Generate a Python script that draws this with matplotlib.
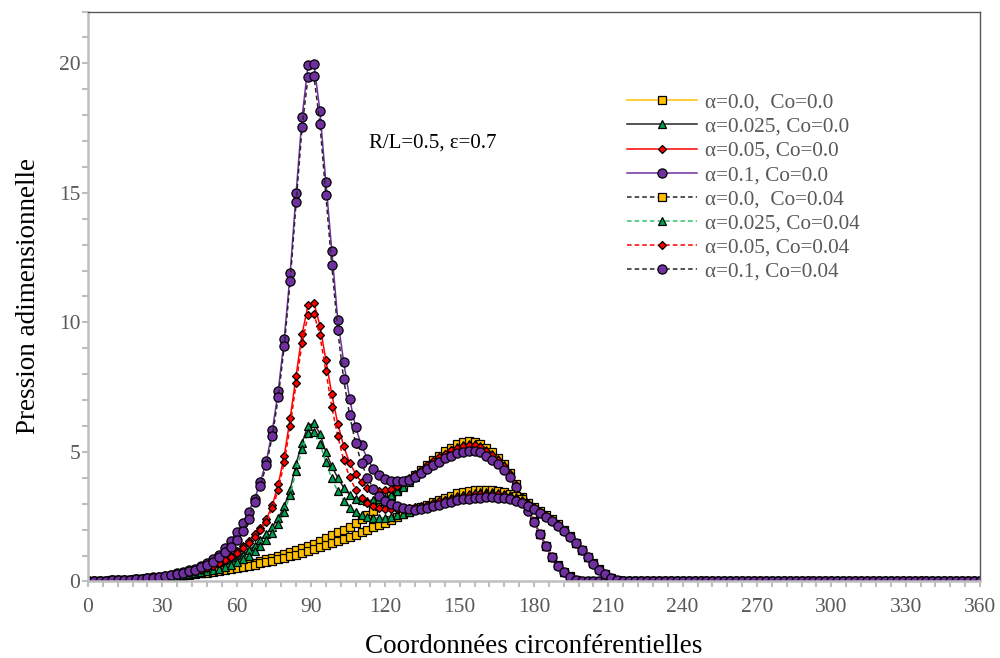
import numpy as np
import matplotlib
matplotlib.use("Agg")
import matplotlib.pyplot as plt
from matplotlib.ticker import MultipleLocator

plt.rcParams['font.family'] = ['Liberation Serif', 'DejaVu Serif']

# circumferential coordinate (deg), one point every 2.4 deg
theta = np.linspace(0, 360, 151)

# alpha = 0.0, Co = 0.0
p_a0_c0 = [
    0.00, 0.01, 0.02, 0.03, 0.04, 0.05, 0.06, 0.07, 0.09, 0.10,
    0.12, 0.14, 0.16, 0.18, 0.20, 0.22, 0.25, 0.28, 0.31, 0.34,
    0.37, 0.41, 0.45, 0.49, 0.53, 0.58, 0.63, 0.68, 0.73, 0.79,
    0.85, 0.91, 0.98, 1.05, 1.12, 1.20, 1.28, 1.36, 1.45, 1.55,
    1.67, 1.79, 1.90, 2.00, 2.12, 2.25, 2.40, 2.55, 2.72, 2.90,
    3.10, 3.30, 3.50, 3.70, 3.90, 4.10, 4.30, 4.50, 4.68, 4.86,
    5.02, 5.17, 5.30, 5.38, 5.42, 5.40, 5.30, 5.15, 4.98, 4.78,
    4.52, 4.18, 3.75, 3.25, 2.78, 2.32, 1.85, 1.38, 0.95, 0.62,
    0.38, 0.20, 0.07, 0.00, 0.00, 0.00, 0.00, 0.00, 0.00, 0.00,
    0.00, 0.00, 0.00, 0.00, 0.00, 0.00, 0.00, 0.00, 0.00, 0.00,
    0.00, 0.00, 0.00, 0.00, 0.00, 0.00, 0.00, 0.00, 0.00, 0.00,
    0.00, 0.00, 0.00, 0.00, 0.00, 0.00, 0.00, 0.00, 0.00, 0.00,
    0.00, 0.00, 0.00, 0.00, 0.00, 0.00, 0.00, 0.00, 0.00, 0.00,
    0.00, 0.00, 0.00, 0.00, 0.00, 0.00, 0.00, 0.00, 0.00, 0.00,
    0.00, 0.00, 0.00, 0.00, 0.00, 0.00, 0.00, 0.00, 0.00, 0.00,
    0.00]

# alpha = 0.025, Co = 0.0
p_a025_c0 = [
    0.00, 0.01, 0.02, 0.03, 0.04, 0.05, 0.06, 0.07, 0.09, 0.10,
    0.12, 0.14, 0.16, 0.18, 0.21, 0.23, 0.26, 0.29, 0.33, 0.36,
    0.40, 0.47, 0.54, 0.63, 0.75, 0.88, 1.03, 1.20, 1.38, 1.60,
    1.84, 2.10, 2.45, 2.90, 3.55, 4.55, 5.35, 6.02, 6.11, 5.70,
    5.00, 4.45, 4.00, 3.62, 3.35, 3.20, 3.13, 3.12, 3.14, 3.18,
    3.24, 3.34, 3.48, 3.66, 3.85, 4.04, 4.23, 4.42, 4.60, 4.77,
    4.93, 5.07, 5.19, 5.27, 5.31, 5.30, 5.22, 5.08, 4.91, 4.72,
    4.49, 4.15, 3.73, 3.24, 2.78, 2.32, 1.85, 1.38, 0.95, 0.62,
    0.38, 0.20, 0.07, 0.00, 0.00, 0.00, 0.00, 0.00, 0.00, 0.00,
    0.00, 0.00, 0.00, 0.00, 0.00, 0.00, 0.00, 0.00, 0.00, 0.00,
    0.00, 0.00, 0.00, 0.00, 0.00, 0.00, 0.00, 0.00, 0.00, 0.00,
    0.00, 0.00, 0.00, 0.00, 0.00, 0.00, 0.00, 0.00, 0.00, 0.00,
    0.00, 0.00, 0.00, 0.00, 0.00, 0.00, 0.00, 0.00, 0.00, 0.00,
    0.00, 0.00, 0.00, 0.00, 0.00, 0.00, 0.00, 0.00, 0.00, 0.00,
    0.00, 0.00, 0.00, 0.00, 0.00, 0.00, 0.00, 0.00, 0.00, 0.00,
    0.00]

# alpha = 0.05, Co = 0.0
p_a05_c0 = [
    0.00, 0.01, 0.02, 0.03, 0.04, 0.05, 0.06, 0.07, 0.09, 0.10,
    0.12, 0.14, 0.16, 0.19, 0.22, 0.26, 0.30, 0.35, 0.41, 0.47,
    0.55, 0.63, 0.73, 0.86, 1.00, 1.16, 1.35, 1.57, 1.82, 2.08,
    2.40, 2.95, 3.75, 4.85, 6.30, 7.95, 9.55, 10.66, 10.75, 9.88,
    8.56, 7.22, 6.09, 5.22, 4.57, 4.16, 3.83, 3.62, 3.52, 3.50,
    3.52, 3.58, 3.70, 3.84, 3.99, 4.15, 4.32, 4.48, 4.64, 4.79,
    4.93, 5.06, 5.16, 5.23, 5.26, 5.25, 5.18, 5.05, 4.88, 4.68,
    4.46, 4.13, 3.72, 3.23, 2.77, 2.31, 1.85, 1.38, 0.95, 0.62,
    0.38, 0.20, 0.07, 0.00, 0.00, 0.00, 0.00, 0.00, 0.00, 0.00,
    0.00, 0.00, 0.00, 0.00, 0.00, 0.00, 0.00, 0.00, 0.00, 0.00,
    0.00, 0.00, 0.00, 0.00, 0.00, 0.00, 0.00, 0.00, 0.00, 0.00,
    0.00, 0.00, 0.00, 0.00, 0.00, 0.00, 0.00, 0.00, 0.00, 0.00,
    0.00, 0.00, 0.00, 0.00, 0.00, 0.00, 0.00, 0.00, 0.00, 0.00,
    0.00, 0.00, 0.00, 0.00, 0.00, 0.00, 0.00, 0.00, 0.00, 0.00,
    0.00, 0.00, 0.00, 0.00, 0.00, 0.00, 0.00, 0.00, 0.00, 0.00,
    0.00]

# alpha = 0.1, Co = 0.0
p_a1_c0 = [
    0.00, 0.01, 0.02, 0.03, 0.04, 0.05, 0.06, 0.07, 0.09, 0.11,
    0.14, 0.16, 0.19, 0.22, 0.26, 0.31, 0.36, 0.43, 0.50, 0.59,
    0.70, 0.85, 1.04, 1.30, 1.58, 1.90, 2.25, 2.68, 3.19, 3.85,
    4.65, 5.83, 7.37, 9.37, 11.90, 15.00, 17.93, 19.92, 19.96, 18.16,
    15.42, 12.75, 10.10, 8.47, 7.05, 5.95, 5.25, 4.72, 4.35, 4.12,
    3.97, 3.88, 3.86, 3.87, 3.92, 4.03, 4.17, 4.33, 4.48, 4.62,
    4.75, 4.86, 4.94, 5.00, 5.04, 5.04, 4.98, 4.86, 4.70, 4.52,
    4.32, 4.02, 3.65, 3.18, 2.73, 2.28, 1.82, 1.36, 0.94, 0.61,
    0.37, 0.19, 0.06, 0.00, 0.00, 0.00, 0.00, 0.00, 0.00, 0.00,
    0.00, 0.00, 0.00, 0.00, 0.00, 0.00, 0.00, 0.00, 0.00, 0.00,
    0.00, 0.00, 0.00, 0.00, 0.00, 0.00, 0.00, 0.00, 0.00, 0.00,
    0.00, 0.00, 0.00, 0.00, 0.00, 0.00, 0.00, 0.00, 0.00, 0.00,
    0.00, 0.00, 0.00, 0.00, 0.00, 0.00, 0.00, 0.00, 0.00, 0.00,
    0.00, 0.00, 0.00, 0.00, 0.00, 0.00, 0.00, 0.00, 0.00, 0.00,
    0.00, 0.00, 0.00, 0.00, 0.00, 0.00, 0.00, 0.00, 0.00, 0.00,
    0.00]

# alpha = 0.0, Co = 0.04
p_a0_c04 = [
    0.00, 0.01, 0.02, 0.03, 0.04, 0.05, 0.06, 0.07, 0.08, 0.10,
    0.11, 0.13, 0.15, 0.17, 0.19, 0.21, 0.23, 0.26, 0.28, 0.31,
    0.34, 0.37, 0.40, 0.44, 0.48, 0.52, 0.56, 0.60, 0.65, 0.70,
    0.75, 0.80, 0.86, 0.92, 0.98, 1.04, 1.11, 1.18, 1.25, 1.32,
    1.39, 1.47, 1.55, 1.63, 1.72, 1.81, 1.91, 2.00, 2.09, 2.17,
    2.27, 2.38, 2.49, 2.60, 2.70, 2.80, 2.89, 2.97, 3.05, 3.13,
    3.21, 3.31, 3.40, 3.45, 3.49, 3.52, 3.54, 3.55, 3.54, 3.51,
    3.46, 3.39, 3.30, 3.18, 3.04, 2.89, 2.73, 2.56, 2.40, 2.20,
    1.99, 1.76, 1.50, 1.23, 0.96, 0.70, 0.47, 0.29, 0.15, 0.04,
    0.00, 0.00, 0.00, 0.00, 0.00, 0.00, 0.00, 0.00, 0.00, 0.00,
    0.00, 0.00, 0.00, 0.00, 0.00, 0.00, 0.00, 0.00, 0.00, 0.00,
    0.00, 0.00, 0.00, 0.00, 0.00, 0.00, 0.00, 0.00, 0.00, 0.00,
    0.00, 0.00, 0.00, 0.00, 0.00, 0.00, 0.00, 0.00, 0.00, 0.00,
    0.00, 0.00, 0.00, 0.00, 0.00, 0.00, 0.00, 0.00, 0.00, 0.00,
    0.00, 0.00, 0.00, 0.00, 0.00, 0.00, 0.00, 0.00, 0.00, 0.00,
    0.00]

# alpha = 0.025, Co = 0.04
p_a025_c04 = [
    0.00, 0.01, 0.02, 0.03, 0.04, 0.05, 0.06, 0.07, 0.08, 0.10,
    0.11, 0.13, 0.15, 0.17, 0.20, 0.22, 0.25, 0.28, 0.31, 0.35,
    0.39, 0.44, 0.50, 0.57, 0.65, 0.74, 0.85, 0.99, 1.16, 1.37,
    1.60, 1.86, 2.20, 2.68, 3.35, 4.25, 5.10, 5.73, 5.76, 5.32,
    4.60, 3.98, 3.48, 3.12, 2.85, 2.68, 2.56, 2.49, 2.46, 2.45,
    2.46, 2.50, 2.55, 2.62, 2.70, 2.78, 2.86, 2.94, 3.01, 3.08,
    3.15, 3.22, 3.29, 3.35, 3.39, 3.43, 3.45, 3.46, 3.45, 3.43,
    3.39, 3.33, 3.25, 3.14, 3.01, 2.87, 2.71, 2.54, 2.38, 2.18,
    1.97, 1.75, 1.50, 1.23, 0.96, 0.70, 0.47, 0.29, 0.15, 0.04,
    0.00, 0.00, 0.00, 0.00, 0.00, 0.00, 0.00, 0.00, 0.00, 0.00,
    0.00, 0.00, 0.00, 0.00, 0.00, 0.00, 0.00, 0.00, 0.00, 0.00,
    0.00, 0.00, 0.00, 0.00, 0.00, 0.00, 0.00, 0.00, 0.00, 0.00,
    0.00, 0.00, 0.00, 0.00, 0.00, 0.00, 0.00, 0.00, 0.00, 0.00,
    0.00, 0.00, 0.00, 0.00, 0.00, 0.00, 0.00, 0.00, 0.00, 0.00,
    0.00, 0.00, 0.00, 0.00, 0.00, 0.00, 0.00, 0.00, 0.00, 0.00,
    0.00]

# alpha = 0.05, Co = 0.04
p_a05_c04 = [
    0.00, 0.01, 0.02, 0.03, 0.04, 0.05, 0.06, 0.07, 0.08, 0.10,
    0.11, 0.13, 0.15, 0.18, 0.21, 0.24, 0.28, 0.33, 0.38, 0.45,
    0.52, 0.60, 0.70, 0.82, 0.95, 1.10, 1.28, 1.49, 1.73, 1.98,
    2.28, 2.82, 3.55, 4.60, 6.00, 7.65, 9.20, 10.27, 10.34, 9.50,
    8.12, 6.73, 5.61, 4.67, 4.03, 3.55, 3.22, 3.02, 2.90, 2.84,
    2.81, 2.80, 2.80, 2.81, 2.83, 2.87, 2.92, 2.97, 3.03, 3.09,
    3.15, 3.20, 3.25, 3.30, 3.33, 3.36, 3.38, 3.39, 3.38, 3.36,
    3.32, 3.27, 3.20, 3.10, 2.98, 2.84, 2.69, 2.53, 2.37, 2.18,
    1.97, 1.75, 1.50, 1.23, 0.96, 0.70, 0.47, 0.29, 0.15, 0.04,
    0.00, 0.00, 0.00, 0.00, 0.00, 0.00, 0.00, 0.00, 0.00, 0.00,
    0.00, 0.00, 0.00, 0.00, 0.00, 0.00, 0.00, 0.00, 0.00, 0.00,
    0.00, 0.00, 0.00, 0.00, 0.00, 0.00, 0.00, 0.00, 0.00, 0.00,
    0.00, 0.00, 0.00, 0.00, 0.00, 0.00, 0.00, 0.00, 0.00, 0.00,
    0.00, 0.00, 0.00, 0.00, 0.00, 0.00, 0.00, 0.00, 0.00, 0.00,
    0.00, 0.00, 0.00, 0.00, 0.00, 0.00, 0.00, 0.00, 0.00, 0.00,
    0.00]

# alpha = 0.1, Co = 0.04
p_a1_c04 = [
    0.00, 0.01, 0.02, 0.03, 0.04, 0.05, 0.06, 0.07, 0.08, 0.10,
    0.12, 0.14, 0.17, 0.20, 0.24, 0.28, 0.33, 0.39, 0.45, 0.54,
    0.64, 0.77, 0.93, 1.12, 1.34, 1.60, 1.93, 2.40, 3.05, 3.70,
    4.50, 5.62, 7.12, 9.08, 11.60, 14.64, 17.54, 19.47, 19.50, 17.67,
    14.90, 12.20, 9.69, 7.80, 6.41, 5.34, 4.57, 4.00, 3.58, 3.28,
    3.10, 3.00, 2.90, 2.82, 2.78, 2.77, 2.80, 2.85, 2.90, 2.96,
    3.02, 3.08, 3.13, 3.17, 3.20, 3.22, 3.24, 3.25, 3.25, 3.24,
    3.21, 3.17, 3.11, 3.03, 2.92, 2.79, 2.64, 2.48, 2.32, 2.14,
    1.94, 1.72, 1.48, 1.22, 0.95, 0.69, 0.46, 0.28, 0.14, 0.04,
    0.00, 0.00, 0.00, 0.00, 0.00, 0.00, 0.00, 0.00, 0.00, 0.00,
    0.00, 0.00, 0.00, 0.00, 0.00, 0.00, 0.00, 0.00, 0.00, 0.00,
    0.00, 0.00, 0.00, 0.00, 0.00, 0.00, 0.00, 0.00, 0.00, 0.00,
    0.00, 0.00, 0.00, 0.00, 0.00, 0.00, 0.00, 0.00, 0.00, 0.00,
    0.00, 0.00, 0.00, 0.00, 0.00, 0.00, 0.00, 0.00, 0.00, 0.00,
    0.00, 0.00, 0.00, 0.00, 0.00, 0.00, 0.00, 0.00, 0.00, 0.00,
    0.00]

labels = ['α=0.0,  Co=0.0', 'α=0.025, Co=0.0', 'α=0.05, Co=0.0', 'α=0.1, Co=0.0',
          'α=0.0,  Co=0.04', 'α=0.025, Co=0.04', 'α=0.05, Co=0.04', 'α=0.1, Co=0.04']
series = [p_a0_c0, p_a025_c0, p_a05_c0, p_a1_c0,
          p_a0_c04, p_a025_c04, p_a05_c04, p_a1_c04]

line_colors = ['#FFC000', '#262626', '#FF0000', '#7030A0',
               '#262626', '#2DBE6C', '#FF0000', '#262626']
line_styles = ['-', '-', '-', '-',
               (0, (3, 2)), (0, (3, 2)), (0, (3, 2)), (0, (3, 2))]
markers = ['s', '^', 'D', 'o'] * 2
marker_fill = ['#FFC000', '#00A050', '#FF0000', '#7030A0'] * 2
marker_size = [6.2, 6.0, 4.3, 6.6] * 2

fig = plt.figure(figsize=(10, 6.58), dpi=100)
ax = fig.add_axes([0.088, 0.1163, 0.892, 0.8662])

for i in range(8):
    ax.plot(theta, series[i], color=line_colors[i], linestyle=line_styles[i],
            linewidth=1.1, marker=markers[i], markersize=marker_size[i],
            markerfacecolor=marker_fill[i], markeredgecolor='black',
            markeredgewidth=0.9, label=labels[i])

ax.set_xlim(0, 360)
ax.set_ylim(0, 22)
ax.xaxis.set_major_locator(MultipleLocator(30))
ax.xaxis.set_minor_locator(MultipleLocator(6))
ax.yaxis.set_major_locator(MultipleLocator(5))
ax.yaxis.set_minor_locator(MultipleLocator(1))

for side in ['left', 'bottom']:
    ax.spines[side].set_color('#BFBFBF')
    ax.spines[side].set_linewidth(1.8)
for side in ['top', 'right']:
    ax.spines[side].set_color('#595959')
    ax.spines[side].set_linewidth(1.0)

ax.tick_params(which='both', direction='out', color='#BFBFBF', width=1.5,
               length=4, labelsize=15.5, labelcolor='#595959')
ax.tick_params(axis='x', pad=8)
ax.tick_params(axis='y', pad=1.5)

ax.set_xlabel('Coordonnées circonférentielles', fontsize=19.5, labelpad=12)
ax.set_ylabel('Pression adimensionnelle', fontsize=19.5, labelpad=13)

ax.text(0.315, 0.769, 'R/L=0.5, ε=0.7', transform=ax.transAxes, fontsize=15,
        va='center')

fig.legend(loc='upper left', bbox_to_anchor=(0.616, 0.875), frameon=False,
           fontsize=15.3, handlelength=3.3, handletextpad=0.4, labelspacing=0.2,
           borderpad=0, labelcolor='#595959')

fig.savefig('out.png', dpi=100)
